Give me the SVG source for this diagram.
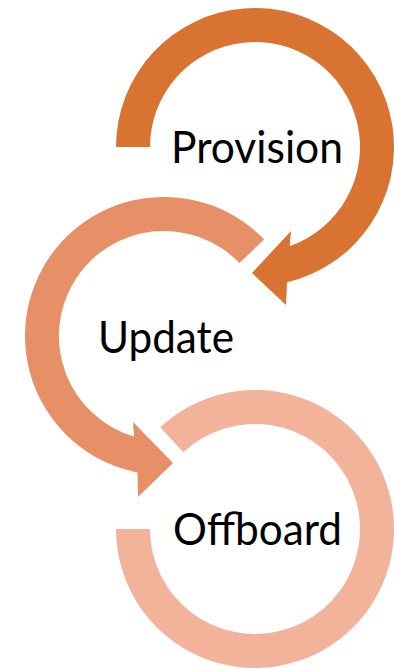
<svg xmlns="http://www.w3.org/2000/svg" width="394" height="669" viewBox="0 0 394 669">
<style>
.lbl{font-family:Lato,"Open Sans","Liberation Sans",sans-serif;font-size:44px;fill:#000}
</style>
<rect width="394" height="669" fill="#fff"/>
<g id="connectors">
<path id="ring-offboard" fill="#F3B39B" d="M160.2,427.3 A139,139 0 1 1 116,529 L150,529 A105,105 0 1 0 183.4,452.2 Z"/>
<path id="ring-update" fill="#E78F66" d="M264,239.4 A139,139 0 1 0 137.5,472.4 L138,497 L173,463 L133,422 L134,436.6 A105,105 0 1 1 239.5,263.1 Z"/>
<path id="ring-provision" fill="#D87331" d="M116,147 A139,139 0 1 1 287,282.3 L286,305 L252,273 L291,231 L289.7,246.1 A105,105 0 1 0 150,147 Z"/>
</g>
<g id="node-provision"><text class="lbl" x="171" y="163" textLength="172" lengthAdjust="spacingAndGlyphs">Provision</text></g>
<g id="node-update"><text class="lbl" x="98" y="353" textLength="136" lengthAdjust="spacingAndGlyphs">Update</text></g>
<g id="node-offboard"><text class="lbl" x="173" y="545" textLength="169" lengthAdjust="spacingAndGlyphs">Offboard</text></g>
</svg>
